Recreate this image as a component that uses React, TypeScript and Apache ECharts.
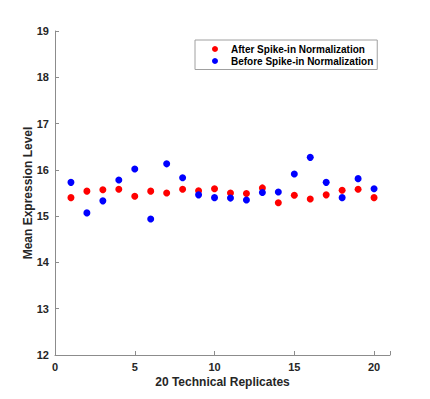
import React, { useEffect, useRef } from "react";
import * as echarts from "echarts";

const replicates = [1, 2, 3, 4, 5, 6, 7, 8, 9, 10, 11, 12, 13, 14, 15, 16, 17, 18, 19, 20];
const afterNorm = [15.40, 15.54, 15.57, 15.58, 15.43, 15.54, 15.50, 15.58, 15.55, 15.59, 15.50, 15.49, 15.61, 15.29, 15.45, 15.37, 15.46, 15.56, 15.58, 15.40];
const beforeNorm = [15.73, 15.07, 15.33, 15.78, 16.02, 14.94, 16.13, 15.83, 15.46, 15.40, 15.39, 15.35, 15.51, 15.52, 15.91, 16.27, 15.73, 15.40, 15.81, 15.59];
const seriesNames = ["After Spike-in Normalization", "Before Spike-in Normalization"];
const xTicks = [0, 5, 10, 15, 20];
const yTicks = [12, 13, 14, 15, 16, 17, 18, 19];

const FONT = "Liberation Sans, Arial, sans-serif";

export default function App() {
  const ref = useRef<HTMLDivElement>(null);
  useEffect(() => {
    if (!ref.current) return;
    const chart = echarts.init(ref.current, null, { renderer: "svg" });
    const axisColor = "#8c8c8c";
    const labelColor = "#262626";
    chart.setOption({
      animation: false,
      backgroundColor: "#ffffff",
      grid: { left: 55, right: 40, top: 31, bottom: 44 },
      legend: {
        orient: "vertical",
        left: 195,
        top: 40,
        padding: [3.5, 4, 3, 17],
        itemGap: 1,
        itemWidth: 6,
        itemHeight: 6,
        borderColor: "#a0a0a0",
        borderWidth: 1,
        backgroundColor: "#ffffff",
        data: seriesNames.map((n) => ({ name: n, icon: "circle" })),
        textStyle: {
          fontFamily: FONT,
          fontWeight: "bold",
          fontSize: 10,
          color: "#000000",
          lineHeight: 11,
          padding: [0, 0, 0, 8],
        },
      },
      xAxis: {
        type: "value",
        min: 0,
        max: 21,
        interval: 5,
        name: "20 Technical Replicates",
        nameLocation: "middle",
        nameGap: 21,
        nameMoveOverlap: false,
        nameTextStyle: { fontFamily: FONT, fontWeight: "bold", fontSize: 12, color: labelColor },
        axisLine: { show: true, lineStyle: { color: axisColor, width: 1 } },
        axisTick: { show: true, inside: true, length: 4, lineStyle: { color: axisColor } },
        axisLabel: {
          fontFamily: FONT,
          fontWeight: "bold",
          fontSize: 11,
          color: labelColor,
          margin: 6,
          formatter: (v: number) => (xTicks.includes(v) ? String(v) : ""),
        },
        splitLine: { show: false },
      },
      yAxis: {
        type: "value",
        min: 12,
        max: 19,
        interval: 1,
        name: "Mean Expression Level",
        nameLocation: "middle",
        nameGap: 21,
        nameMoveOverlap: false,
        nameTextStyle: { fontFamily: FONT, fontWeight: "bold", fontSize: 12, color: labelColor },
        axisLine: { show: true, lineStyle: { color: axisColor, width: 1 } },
        axisTick: { show: true, inside: true, length: 4, lineStyle: { color: axisColor } },
        axisLabel: {
          fontFamily: FONT,
          fontWeight: "bold",
          fontSize: 11,
          color: labelColor,
          margin: 6,
          formatter: (v: number) => (yTicks.includes(v) ? String(v) : ""),
        },
        splitLine: { show: false },
      },
      series: [
        {
          name: seriesNames[0],
          type: "scatter",
          symbol: "circle",
          symbolSize: 7,
          itemStyle: { color: "#ff0000", opacity: 1 },
          data: replicates.map((x, i) => [x, afterNorm[i]]),
        },
        {
          name: seriesNames[1],
          type: "scatter",
          symbol: "circle",
          symbolSize: 7,
          itemStyle: { color: "#0000ff", opacity: 1 },
          data: replicates.map((x, i) => [x, beforeNorm[i]]),
        },
      ],
    });
    return () => chart.dispose();
  }, []);
  return <div ref={ref} style={{ width: 430, height: 399, position: "absolute", left: 0, top: 0 }} />;
}
